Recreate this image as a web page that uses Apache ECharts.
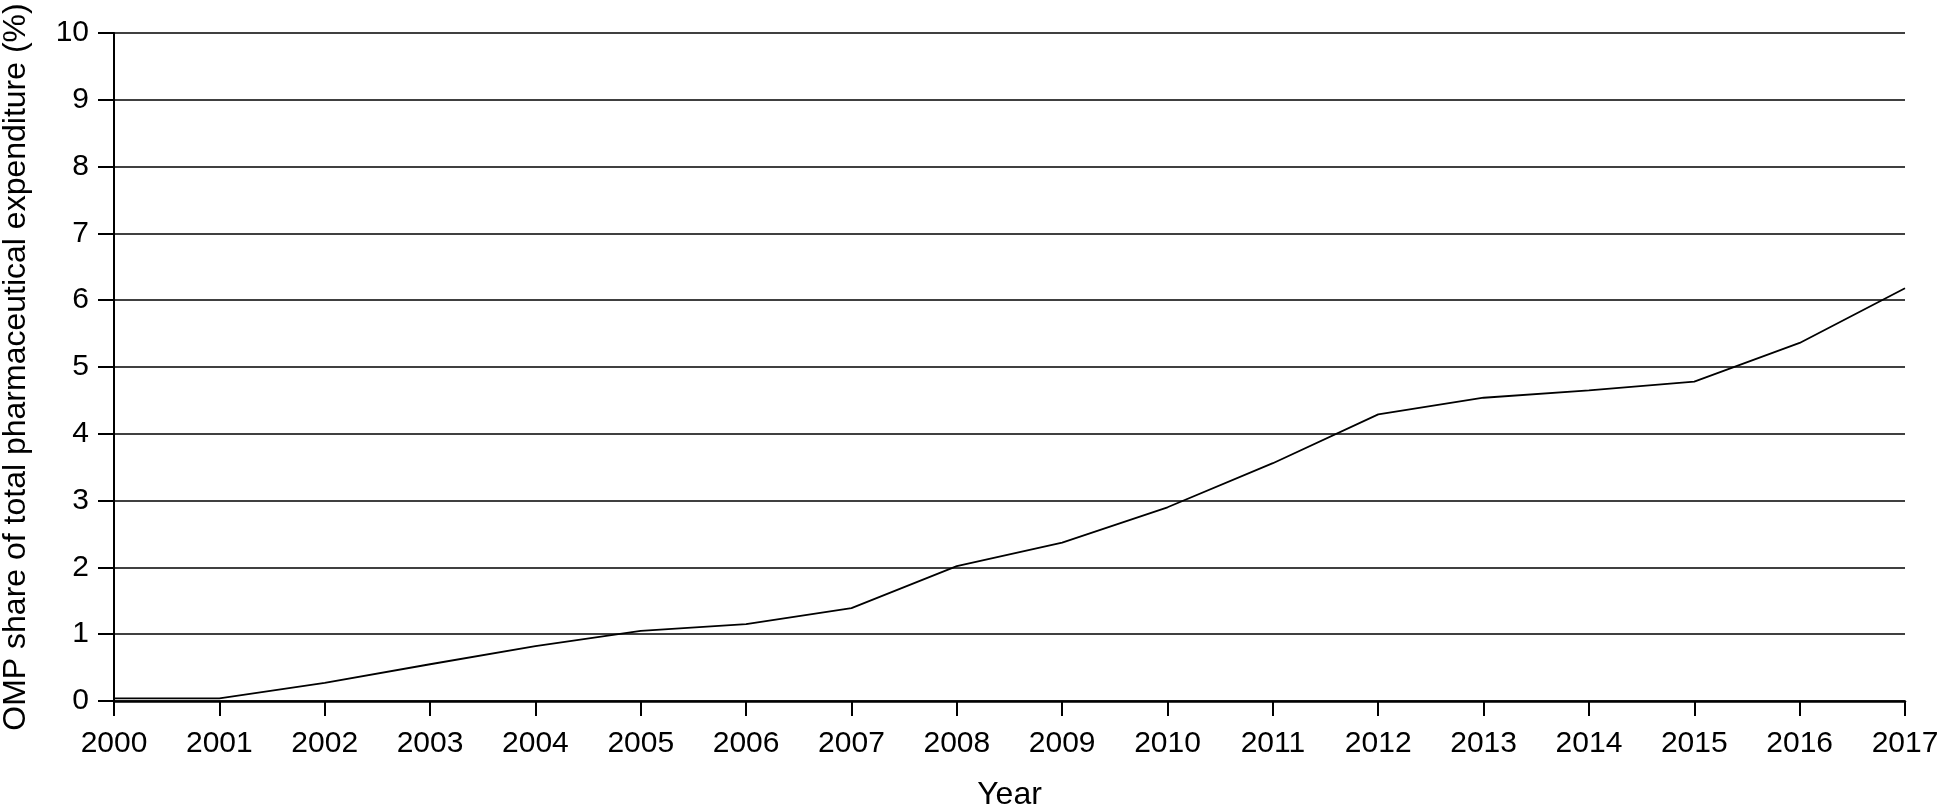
<!DOCTYPE html>
<html>
<head>
<meta charset="utf-8">
<script src="https://cdn.jsdelivr.net/npm/echarts@6/dist/echarts.min.js"></script>
<style>
html,body{margin:0;padding:0;background:#fff;}
#c{width:1941px;height:806px;}
</style>
</head>
<body>
<div id="c"></div>
<script>
const years = ['2000','2001','2002','2003','2004','2005','2006','2007','2008','2009','2010','2011','2012','2013','2014','2015','2016','2017'];
const ompShare = [0.04,0.04,0.27,0.55,0.82,1.05,1.15,1.39,2.02,2.37,2.90,3.56,4.29,4.54,4.65,4.78,5.36,6.18];
const yTicks = [0,1,2,3,4,5,6,7,8,9,10];

const font = 'Liberation Sans, Arial, Helvetica, sans-serif';
const chart = echarts.init(document.getElementById('c'), null, {renderer:'canvas'});
chart.setOption({
  animation:false,
  backgroundColor:'#fff',
  grid:{left:114,right:36,top:33,bottom:105,containLabel:false,outerBoundsMode:'none'},
  xAxis:{
    type:'category',
    data:years,
    boundaryGap:false,
    name:'Year',
    nameLocation:'middle',
    nameGap:78,
    nameTextStyle:{color:'#000',fontSize:32,fontFamily:font},
    axisLine:{show:true,onZero:false,lineStyle:{color:'#000',width:2.5}},
    axisTick:{show:true,inside:false,length:15,lineStyle:{color:'#000',width:2}},
    axisLabel:{color:'#000',fontSize:30,fontFamily:font,margin:28,interval:0},
    splitLine:{show:false}
  },
  yAxis:{
    type:'value',
    min:yTicks[0],
    max:yTicks[yTicks.length-1],
    interval:1,
    name:'OMP share of total pharmaceutical expenditure (%)',
    nameLocation:'middle',
    nameGap:82,
    nameTextStyle:{color:'#000',fontSize:32,fontFamily:font},
    axisLine:{show:true,lineStyle:{color:'#000',width:2}},
    axisTick:{show:true,length:16,lineStyle:{color:'#000',width:2}},
    axisLabel:{color:'#000',fontSize:30,fontFamily:font,margin:25},
    splitLine:{show:true,lineStyle:{color:'#000',width:1.6}}
  },
  series:[{
    type:'line',
    data:ompShare,
    symbol:'none',
    lineStyle:{color:'#000',width:1.8},
    z:3
  }]
});
</script>
</body>
</html>
